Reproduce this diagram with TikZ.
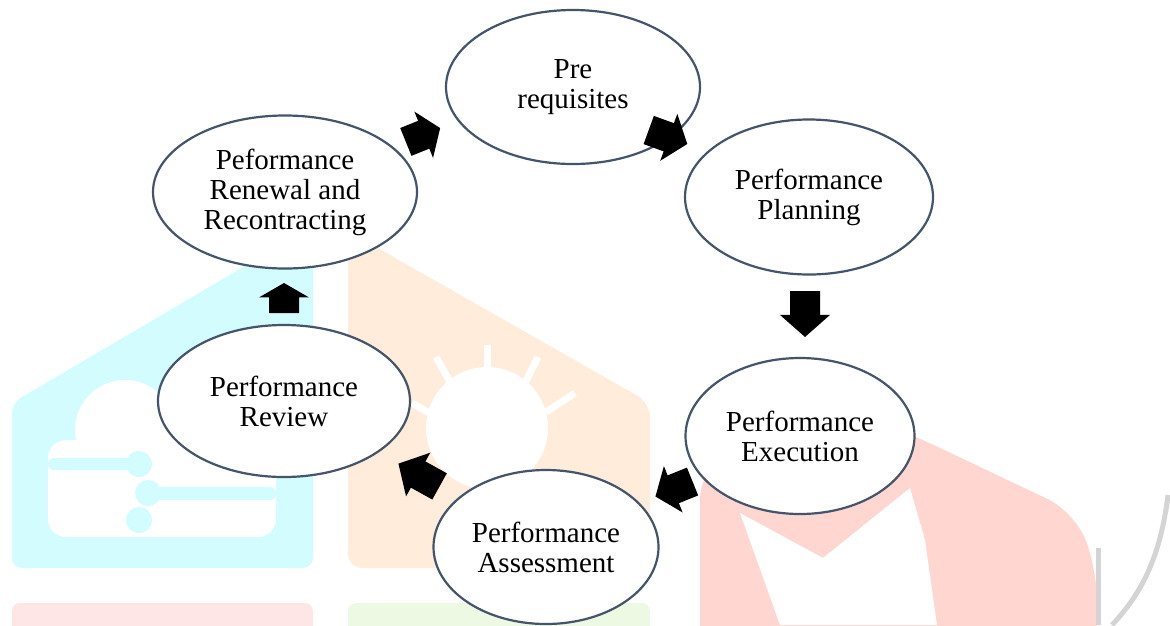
\documentclass[tikz,border=0pt]{standalone}
\usepackage{fontspec}
\setmainfont{Liberation Serif}
\usetikzlibrary{shapes.geometric}
\definecolor{edgec}{RGB}{68,84,106}
\definecolor{wcyan}{RGB}{210,252,255}
\definecolor{worange}{RGB}{255,236,218}
\definecolor{wred}{RGB}{255,214,208}
\definecolor{wpink}{RGB}{255,230,230}
\definecolor{wgreen}{RGB}{238,249,228}
\definecolor{wgrey}{RGB}{212,212,212}
\newcommand\blockarr[4]{%
  \fill[black, shift={(#1,#2)}, rotate=#3]
    ({-#4/2},-15) -- ({0.02*#4},-15) -- ({0.02*#4},-25) -- ({#4/2},0)
    -- ({0.02*#4},25) -- ({0.02*#4},15) -- ({-#4/2},15) -- cycle;}
\begin{document}
\begin{tikzpicture}[x=1pt,y=-1pt,
  stage/.style={ellipse, draw=edgec, line width=2.2pt, fill=white, inner sep=0pt,
    align=center, font=\fontsize{29}{30}\selectfont}]
\useasboundingbox (0,0) rectangle (1170,625);
% ---- faint watermark ----
\fill[wcyan, rounded corners=10pt] (12,403) -- (313,226) -- (313,568) -- (12,568) -- cycle;
\fill[white, rounded corners=18pt] (48,440) rectangle (276,537);
\fill[white] (125,430) circle (50);
\fill[wcyan, rounded corners=6pt] (48,458) rectangle (132,470);
\fill[wcyan] (139,464) circle (13);
\fill[wcyan, rounded corners=6pt] (150,487) rectangle (276,500);
\fill[wcyan] (148,493) circle (13);
\fill[wcyan] (139,520) circle (13);
\fill[worange, rounded corners=14pt] (348,231) -- (650,403) -- (650,568) -- (348,568) -- cycle;
\fill[white] (487,428) circle (61);
\begin{scope}[white, line width=7pt]
  \draw (487,345) -- (487,378);
  \draw (436,357) -- (453,387);
  \draw (538,357) -- (523,387);
  \draw (575,393) -- (546,412);
  \draw (412,403) -- (429,413);
\end{scope}
\fill[wred, rounded corners=30pt] (700,470) -- (800,390) -- (917,437) -- (1075,512) -- (1097,570) -- (1097,670) -- (700,670) -- cycle;
\fill[white] (740,513) -- (823,558) -- (910,488) -- (925,540) -- (937,625) -- (780,625) -- cycle;
\draw[wgrey, line width=5pt] (1098,548) -- (1098,625);
\draw[wgrey, line width=5pt] (1168,495) .. controls (1160,560) and (1140,595) .. (1112,625);
\fill[wpink, rounded corners=8pt] (12,603) rectangle (313,640);
\fill[wgreen, rounded corners=8pt] (348,603) rectangle (650,640);
% ---- cycle ----
\node[stage, minimum width=254pt, minimum height=154pt] (e1) at (573,87) {Pre\\requisites};
\node[stage, minimum width=248pt, minimum height=155pt] (e2) at (809,197) {Performance\\Planning};
\node[stage, minimum width=229pt, minimum height=156pt] (e3) at (800,436) {Performance\\Execution};
\node[stage, minimum width=225pt, minimum height=154pt] (e4) at (546,547) {Performance\\Assessment};
\node[stage, minimum width=252pt, minimum height=152pt] (e5) at (284,401) {Performance\\Review};
\node[stage, minimum width=264pt, minimum height=153pt] (e6) at (285,192) {Peformance\\Renewal and\\Recontracting};
% ---- block arrows ----
\blockarr{423}{135}{22}{37}
\blockarr{668}{137}{-20}{41}
\blockarr{805}{314}{-90}{46}
\blockarr{674}{489}{202}{40}
\blockarr{419}{475}{151}{47}
\blockarr{284}{298}{90}{30}
\end{tikzpicture}
\end{document}
